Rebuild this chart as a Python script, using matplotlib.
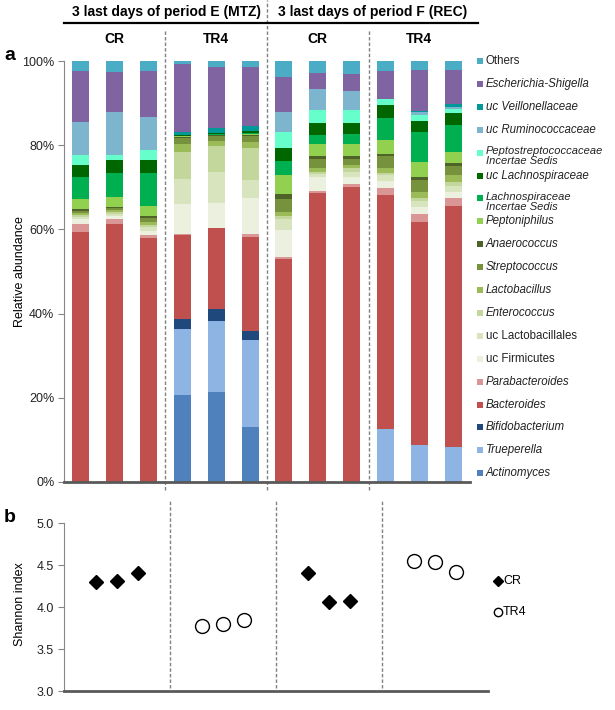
import matplotlib
matplotlib.use('Agg')
import matplotlib.pyplot as plt
from matplotlib.patches import Rectangle
from matplotlib.lines import Line2D
import numpy as np

plt.rcParams['font.family'] = ['Liberation Sans', 'DejaVu Sans']

# relative abundance (%) per sample, 12 samples:
# period E: CR x3, TR4 x3 ; period F: CR x3, TR4 x3
actinomyces      = [0, 0, 0, 20.7, 21.3, 13.1, 0, 0, 0, 0, 0, 0]
trueperella      = [0, 0, 0, 15.6, 17.0, 20.6, 0, 0, 0, 12.6, 8.8, 8.4]
bifidobacterium  = [0, 0, 0, 2.3, 2.7, 2.2, 0, 0, 0, 0, 0, 0]
bacteroides      = [59.5, 61.4, 58.0, 20.0, 19.3, 22.4, 52.9, 68.6, 70.0, 55.6, 53.0, 57.2]
parabacteroides  = [1.7, 1.1, 0.7, 0.3, 0.1, 0.5, 0.6, 0.6, 0.7, 1.7, 1.8, 1.8]
uc_firmicutes    = [1.3, 0.6, 1.0, 7.1, 5.9, 8.7, 6.4, 3.2, 1.8, 1.6, 1.8, 1.6]
uc_lactobacillales = [0.5, 0.6, 0.8, 6.0, 7.4, 4.2, 2.5, 0.7, 1.2, 1.4, 1.3, 1.4]
enterococcus     = [0.4, 0.4, 0.6, 6.5, 6.0, 7.7, 0.9, 0.6, 0.8, 0.6, 0.8, 0.9]
lactobacillus    = [0.5, 0.4, 0.6, 1.7, 1.3, 1.3, 0.9, 0.8, 0.8, 1.0, 1.3, 1.6]
streptococcus    = [0.5, 0.5, 1.0, 1.6, 1.2, 1.5, 3.1, 2.2, 1.4, 3.0, 2.9, 2.2]
anaerococcus     = [0.5, 0.4, 0.5, 0.2, 0.2, 0.3, 1.1, 0.7, 0.8, 0.5, 0.8, 0.7]
peptoniphilus    = [2.3, 2.4, 2.4, 0.1, 0.1, 0.1, 4.5, 2.8, 2.7, 3.2, 3.4, 2.7]
lachno_is        = [5.2, 5.6, 7.7, 0.2, 0.2, 0.4, 3.3, 2.2, 2.5, 5.2, 7.2, 6.3]
uc_lachno        = [2.8, 3.0, 3.2, 0.1, 0.1, 0.4, 3.2, 2.9, 2.6, 3.1, 2.6, 2.9]
peptostrep_is    = [2.5, 1.3, 2.4, 0, 0, 0, 3.7, 3.1, 3.1, 1.5, 1.5, 1.0]
uc_rumino        = [7.9, 10.1, 7.9, 0, 0, 0, 4.7, 4.9, 4.5, 0, 0.6, 0.4]
uc_veillonella   = [0, 0, 0, 0.8, 1.2, 1.2, 0, 0, 0, 0, 0.3, 0.6]
escherichia      = [12.0, 9.6, 10.8, 16.2, 14.6, 14.0, 8.5, 3.8, 4.0, 6.6, 9.8, 8.2]
others           = [2.4, 2.6, 2.4, 0.6, 1.4, 1.4, 3.7, 2.9, 3.1, 2.4, 2.1, 2.1]

# Shannon index
shannon_cr_E  = [4.30, 4.31, 4.41]
shannon_tr4_E = [3.77, 3.80, 3.84]
shannon_cr_F  = [4.40, 4.06, 4.07]
shannon_tr4_F = [4.55, 4.53, 4.42]

periods = ['3 last days of period E (MTZ)', '3 last days of period F (REC)']
groups = ['CR', 'TR4', 'CR', 'TR4']

# stacking order bottom -> top: (values, label, italic, colour)
layers = [
    (actinomyces, 'Actinomyces', True, '#4F81BD'),
    (trueperella, 'Trueperella', True, '#8DB4E2'),
    (bifidobacterium, 'Bifidobacterium', True, '#1F497D'),
    (bacteroides, 'Bacteroides', True, '#C0504D'),
    (parabacteroides, 'Parabacteroides', True, '#D99694'),
    (uc_firmicutes, 'uc Firmicutes', False, '#EBF1DE'),
    (uc_lactobacillales, 'uc Lactobacillales', False, '#D7E4BD'),
    (enterococcus, 'Enterococcus', True, '#C3D69B'),
    (lactobacillus, 'Lactobacillus', True, '#9BBB59'),
    (streptococcus, 'Streptococcus', True, '#76923C'),
    (anaerococcus, 'Anaerococcus', True, '#4F6228'),
    (peptoniphilus, 'Peptoniphilus', True, '#92D050'),
    (lachno_is, 'Lachnospiraceae\nIncertae Sedis', True, '#00B050'),
    (uc_lachno, 'uc Lachnospiraceae', True, '#006600'),
    (peptostrep_is, 'Peptostreptococcaceae\nIncertae Sedis', True, '#66FFCC'),
    (uc_rumino, 'uc Ruminococcaceae', True, '#7DB4CE'),
    (uc_veillonella, 'uc Veillonellaceae', True, '#009999'),
    (escherichia, 'Escherichia-Shigella', True, '#8064A2'),
    (others, 'Others', False, '#4BACC6'),
]

W, H = 615, 710
fig = plt.figure(figsize=(6.15, 7.10), dpi=100)


def fx(x):
    return x / W


def fy(y):
    return 1 - y / H


axis_grey = '#868686'
dark_grey = '#595959'

# ---- panel a ----
ax = fig.add_axes([fx(64), fy(482), fx(470) - fx(64), fy(61) - fy(482)])
x = np.arange(12)
bottom = np.zeros(12)
for vals, lab, it, col in layers:
    vals = np.array(vals, dtype=float)
    ax.bar(x, vals, width=0.5, bottom=bottom, color=col, linewidth=0)
    bottom += vals

ax.set_xlim(-0.5, 11.5)
ax.set_ylim(0, 100)
ax.set_yticks(np.arange(0, 101, 20))
ax.set_yticklabels(['%d%%' % v for v in range(0, 101, 20)], fontsize=9)
ax.set_xticks([])
for s in ['top', 'right']:
    ax.spines[s].set_visible(False)
ax.spines['left'].set_color(axis_grey)
ax.spines['bottom'].set_color(dark_grey)
ax.spines['bottom'].set_linewidth(2)
ax.tick_params(axis='y', colors=axis_grey, labelcolor='#222222', length=4, pad=3)
ax.set_ylabel('Relative abundance', fontsize=9)
ax.yaxis.set_label_coords(-0.094, 0.5)

# dividers panel a
for xd, top in [(2.5, 1.074), (5.5, 1.145), (8.5, 1.074)]:
    ax.axvline(xd, ymin=-0.02, ymax=top, color='#808080', ls=(0, (2.5, 1.5)),
               lw=1, clip_on=False)

# headers
for i, p in enumerate(periods):
    fig.text(fx([166, 373][i]), fy(12), p, ha='center', va='center',
             fontsize=10, fontweight='bold')
fig.add_artist(Line2D([fx(64), fx(478)], [fy(23), fy(23)], color='black', lw=1.6))
for i, g in enumerate(groups):
    xc = ax.transData.transform((i * 3 + 1, 0))[0] / fig.dpi / 6.15
    fig.text(xc, fy(39), g, ha='center', va='center', fontsize=10, fontweight='bold')

fig.text(fx(4), fy(55), 'a', fontsize=14, fontweight='bold', va='center')
fig.text(fx(4), fy(518), 'b', fontsize=14, fontweight='bold', va='center')

# legend panel a (top -> bottom)
for i, (vals, lab, it, col) in enumerate(layers[::-1]):
    yc = 61 + i * 22.9
    fig.add_artist(Rectangle((fx(477), fy(yc + 3)), fx(6), fy(0) - fy(6),
                             transform=fig.transFigure, color=col, lw=0))
    lines = lab.split('\n')
    if len(lines) == 1:
        fig.text(fx(486), fy(yc), lab, fontsize=8.3, va='center',
                 style='italic' if it else 'normal', color='#222222')
    else:
        fig.text(fx(486), fy(yc - 6.5), lab, fontsize=8.0, va='top',
                 linespacing=0.98, style='italic', color='#222222')

# ---- panel b ----
bx = fig.add_axes([fx(63.7), fy(691), fx(488) - fx(63.7), fy(523) - fy(691)])
offs = np.array([-0.2, 0, 0.2])
bx.plot(0.5 + offs, shannon_cr_E, 'D', color='black', ms=7, ls='none')
bx.plot(1.5 + offs, shannon_tr4_E, 'o', mfc='white', mec='black', mew=1, ms=10, ls='none')
bx.plot(2.5 + offs, shannon_cr_F, 'D', color='black', ms=7, ls='none')
bx.plot(3.5 + offs, shannon_tr4_F, 'o', mfc='white', mec='black', mew=1, ms=10, ls='none')
bx.set_xlim(0, 4)
bx.set_ylim(3.0, 5.0)
bx.set_yticks(np.arange(3.0, 5.01, 0.5))
bx.set_yticklabels(['%.1f' % v for v in np.arange(3.0, 5.01, 0.5)], fontsize=9)
bx.set_xticks([])
for s in ['top', 'right']:
    bx.spines[s].set_visible(False)
bx.spines['left'].set_color(axis_grey)
bx.spines['bottom'].set_color(dark_grey)
bx.spines['bottom'].set_linewidth(2)
bx.tick_params(axis='y', colors=axis_grey, labelcolor='#222222', length=4, pad=3)
bx.set_ylabel('Shannon index', fontsize=9)
bx.yaxis.set_label_coords(-0.09, 0.52)
for xd in [1, 2, 3]:
    bx.axvline(xd, ymin=0.018, ymax=1.13, color='#808080', ls=(0, (2.5, 1.5)),
               lw=1, clip_on=False)

# legend panel b
fig.add_artist(Line2D([fx(498)], [fy(581)], marker='D', color='black', ms=5,
                      ls='none', transform=fig.transFigure))
fig.text(fx(503), fy(581), 'CR', fontsize=9, va='center')
fig.add_artist(Line2D([fx(498)], [fy(612)], marker='o', mfc='white', mec='black',
                      ms=6, ls='none', transform=fig.transFigure))
fig.text(fx(503), fy(612), 'TR4', fontsize=9, va='center')

fig.savefig('out.png', dpi=100)
